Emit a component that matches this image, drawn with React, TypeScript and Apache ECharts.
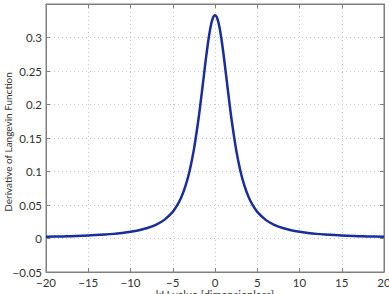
import React, { useEffect, useRef } from "react";
import * as echarts from "echarts";

const xValues = [-20, -18, -17, -15, -13, -12, -11, -10, -9, -8, -7, -6, -5, -4.5, -4, -3.5, -3, -2.5, -2, -1.75, -1.5, -1.25, -1, -0.75, -0.5, -0.25, 0, 0.25, 0.5, 0.75, 1, 1.25, 1.5, 1.75, 2, 2.5, 3, 3.5, 4, 4.5, 5, 6, 7, 8, 9, 10, 11, 12, 13, 15, 17, 18, 20];
const yValues = [0.0025, 0.0031, 0.0035, 0.0044, 0.0059, 0.0069, 0.0083, 0.01, 0.0123, 0.0156, 0.0204, 0.0278, 0.0398, 0.0489, 0.0612, 0.078, 0.1012, 0.1327, 0.174, 0.1981, 0.2239, 0.2503, 0.2759, 0.2989, 0.3173, 0.3292, 0.3333, 0.3292, 0.3173, 0.2989, 0.2759, 0.2503, 0.2239, 0.1981, 0.174, 0.1327, 0.1012, 0.078, 0.0612, 0.0489, 0.0398, 0.0278, 0.0204, 0.0156, 0.0123, 0.01, 0.0083, 0.0069, 0.0059, 0.0044, 0.0035, 0.0031, 0.0025];
const xTicks = { min: -20, max: 20, interval: 5 };
const yTicks = { min: -0.05, max: 0.35, interval: 0.05 };

const fmt = (v: number) => {
  const s = String(Math.round(v * 1000) / 1000);
  return s.replace("-", "\u2212");
};

export default function App() {
  const ref = useRef<HTMLDivElement>(null);
  useEffect(() => {
    document.body.style.margin = "0";
    const chart = echarts.init(ref.current!, null, { renderer: "svg" });
    const font = "Lato";
    const axisCommon = {
      axisLine: { show: true, onZero: false, lineStyle: { color: "#7f7f7f", width: 1 } },
      axisTick: { show: true, inside: true, length: 4, lineStyle: { color: "#7f7f7f" } },
    };
    chart.setOption({
      animation: false,
      backgroundColor: "#ffffff",
      grid: {
        left: 46, right: 5, top: 4, bottom: 22,
        containLabel: false, outerBoundsMode: "none",
        show: true, borderColor: "#7f7f7f", borderWidth: 1,
      },
      xAxis: [
        {
          type: "value",
          ...xTicks,
          position: "bottom",
          ...axisCommon,
          axisLabel: { fontFamily: font, fontSize: 11.5, color: "#333", margin: 4, formatter: (v: number) => fmt(v) },
          splitLine: { show: true, lineStyle: { color: "#c8c8c8", type: [1, 3], width: 1 } },
          name: "kH value [dimensionless]",
          nameLocation: "middle",
          nameGap: 17,
          nameMoveOverlap: false,
          nameTextStyle: { fontFamily: font, fontSize: 11, color: "#333", verticalAlign: "top" },
        },
        {
          type: "value",
          ...xTicks,
          position: "top",
          ...axisCommon,
          axisLabel: { show: false },
          splitLine: { show: false },
        },
      ],
      yAxis: [
        {
          type: "value",
          ...yTicks,
          position: "left",
          ...axisCommon,
          axisLabel: {
            fontFamily: font,
            fontSize: 11.5,
            color: "#333",
            margin: 4,
            formatter: (v: number) => (Math.abs(v - 0.35) < 1e-6 ? "" : fmt(v)),
          },
          splitLine: { show: true, lineStyle: { color: "#c8c8c8", type: [1, 3], width: 1 } },
          name: "Derivative of Langevin Function",
          nameLocation: "middle",
          nameGap: 38,
          nameMoveOverlap: false,
          nameTextStyle: { fontFamily: font, fontSize: 10, color: "#333", verticalAlign: "middle", padding: [0, 8, 0, 0] },
        },
        {
          type: "value",
          ...yTicks,
          position: "right",
          ...axisCommon,
          axisLabel: { show: false },
          splitLine: { show: false },
        },
      ],
      series: [
        {
          type: "line",
          data: xValues.map((x, i) => [x, yValues[i]]),
          smooth: 0.3,
          showSymbol: false,
          symbol: "none",
          lineStyle: { color: "#1a2d9c", width: 2.5 },
        },
      ],
    });
    return () => chart.dispose();
  }, []);
  return <div ref={ref} style={{ width: 389, height: 294 }} />;
}
